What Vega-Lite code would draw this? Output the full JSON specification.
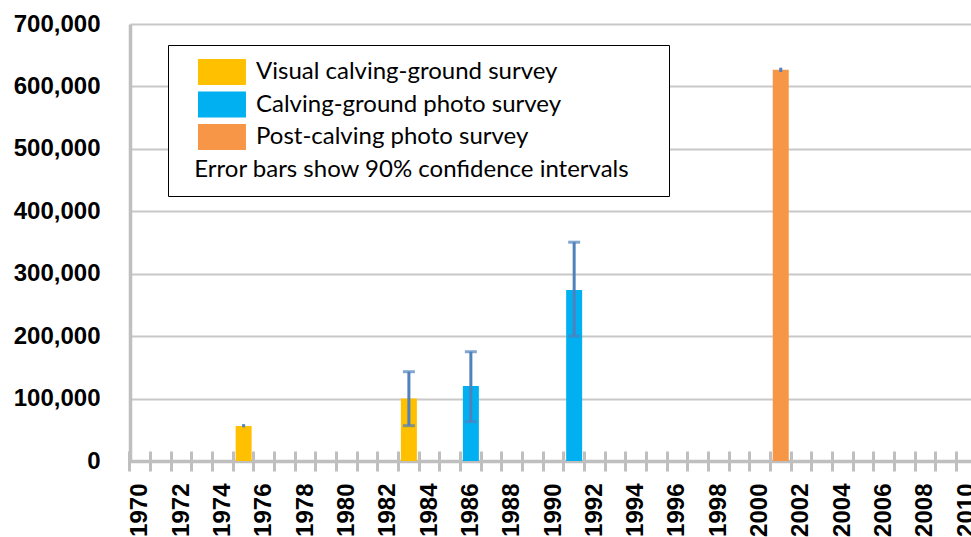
{
  "$schema": "https://vega.github.io/schema/vega-lite/v6.json",
  "width": 847,
  "height": 437,
  "autosize": {"type": "none"},
  "padding": {"left": 130, "top": 24, "right": 0, "bottom": 76},
  "background": "white",
  "config": {"view": {"stroke": null}},
  "data": {
    "values": [
      {"year": 1975, "value": 56000, "lo": 54000, "hi": 59000, "survey": "Visual calving-ground survey"},
      {"year": 1983, "value": 100000, "lo": 56600, "hi": 143000, "survey": "Visual calving-ground survey"},
      {"year": 1986, "value": 120000, "lo": 63000, "hi": 175000, "survey": "Calving-ground photo survey"},
      {"year": 1991, "value": 274000, "lo": 200000, "hi": 350500, "survey": "Calving-ground photo survey"},
      {"year": 2001, "value": 626600, "lo": 623000, "hi": 630000, "survey": "Post-calving photo survey"}
    ]
  },
  "encoding": {
    "x": {
      "field": "year",
      "type": "ordinal",
      "scale": {
        "type": "band",
        "paddingInner": 0,
        "paddingOuter": 0,
        "domain": [1970,1971,1972,1973,1974,1975,1976,1977,1978,1979,1980,1981,1982,1983,1984,1985,1986,1987,1988,1989,1990,1991,1992,1993,1994,1995,1996,1997,1998,1999,2000,2001,2002,2003,2004,2005,2006,2007,2008,2009,2010]
      }
    }
  },
  "layer": [
    {
      "mark": {"type": "bar", "width": {"band": 0.774}},
      "encoding": {
        "x": {
          "field": "year",
          "type": "ordinal",
          "axis": {
            "orient": "bottom",
            "title": null,
            "labelExpr": "datum.value % 2 == 0 ? datum.label : ''",
            "ticks": false,
            "grid": false,
            "domain": true,
            "domainColor": "#BFBFBF",
            "domainWidth": 3.5,
            "labelAngle": 270,
            "labelOverlap": false,
            "labelBound": false,
            "labelFlush": false,
            "labelFont": "Liberation Sans",
            "labelFontWeight": "bold",
            "labelFontSize": 24,
            "labelColor": "black",
            "labelPadding": 22,
            "zindex": 0
          }
        },
        "y": {
          "field": "value",
          "type": "quantitative",
          "scale": {"domain": [0, 700000], "nice": false},
          "axis": {
            "title": null,
            "values": [0, 100000, 200000, 300000, 400000, 500000, 600000, 700000],
            "format": ",d",
            "ticks": false,
            "grid": true,
            "gridColor": "#C8C8C8",
            "gridWidth": 2,
            "domain": true,
            "domainColor": "#BFBFBF",
            "domainWidth": 3.5,
            "labelFont": "Liberation Sans",
            "labelFontWeight": "bold",
            "labelFontSize": 24,
            "labelColor": "black",
            "labelPadding": 30
          }
        },
        "color": {
          "field": "survey",
          "type": "nominal",
          "scale": {
            "domain": ["Visual calving-ground survey", "Calving-ground photo survey", "Post-calving photo survey"],
            "range": ["#FFC000", "#00B0F0", "#F79646"]
          },
          "legend": {
            "orient": "none",
            "legendX": 38,
            "legendY": 21,
            "title": "\u200b\u00a0\u00a0Error bars show 90% confidence intervals\u00a0\u00a0\u00a0\u00a0\u200b",
            "titleOrient": "bottom",
            "titleAnchor": "start",
            "titleAlign": "left",
            "titleFont": "Lato",
            "titleFontSize": 24,
            "titleFontWeight": "normal",
            "titleColor": "black",
            "titlePadding": 8,
            "titleLimit": 1000,
            "labelFont": "Lato",
            "labelFontSize": 24,
            "labelColor": "black",
            "labelOffset": 48,
            "labelLimit": 1000,
            "symbolType": "M0.23,-1H3.92V1H0.23Z",
            "symbolSize": 676,
            "symbolStrokeWidth": 0,
            "symbolOpacity": 1,
            "rowPadding": 6.5,
            "padding": 14,
            "fillColor": "white",
            "strokeColor": "black"
          }
        }
      }
    },
    {
      "mark": {"type": "rule", "color": "#4F81BD", "strokeWidth": 3},
      "encoding": {
        "x": {
          "field": "year",
          "type": "ordinal",
          "axis": {
            "orient": "bottom",
            "title": null,
            "labels": false,
            "domain": false,
            "grid": false,
            "ticks": true,
            "tickSize": 20,
            "tickWidth": 3,
            "tickColor": "#BFBFBF",
            "bandPosition": 0,
            "offset": -10
          }
        },
        "y": {"field": "lo", "type": "quantitative"},
        "y2": {"field": "hi"}
      }
    },
    {
      "transform": [
        {"filter": "datum.hi - datum.lo > 10000"},
        {"fold": ["lo", "hi"], "as": ["bound", "bv"]}
      ],
      "mark": {"type": "tick", "color": "#4F81BD", "size": 12, "thickness": 3, "orient": "horizontal"},
      "encoding": {
        "x": {"field": "year", "type": "ordinal", "axis": null},
        "y": {"field": "bv", "type": "quantitative"}
      }
    }
  ],
  "resolve": {"axis": {"x": "independent"}}
}
